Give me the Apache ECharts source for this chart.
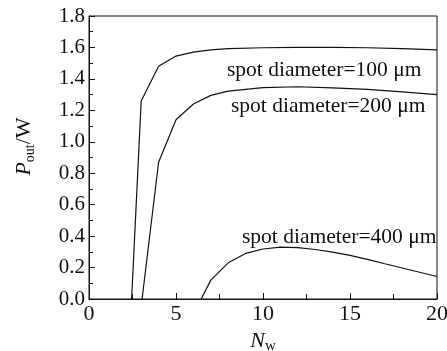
<!DOCTYPE html>
<html>
<head>
<meta charset="utf-8">
<script src="https://cdn.jsdelivr.net/npm/echarts@6/dist/echarts.min.js"></script>
<style>
html, body { margin: 0; padding: 0; background: #fff; }
#main { width: 447px; height: 351px; }
</style>
</head>
<body>
<div id="main"></div>
<script>
'use strict';

// spot diameter = 100 um
let nw100 = [2.45, 3.0, 4.0, 5, 6, 7, 8, 10, 12, 14, 16, 18, 20];
let pout100 = [0, 1.26, 1.48, 1.545, 1.57, 1.585, 1.593, 1.598, 1.6, 1.6, 1.598, 1.592, 1.585];

// spot diameter = 200 um
let nw200 = [3.05, 4.0, 5, 6, 7, 8, 10, 12, 14, 16, 18, 20];
let pout200 = [0, 0.87, 1.14, 1.24, 1.295, 1.322, 1.345, 1.35, 1.343, 1.333, 1.318, 1.30];

// spot diameter = 400 um
let nw400 = [6.45, 7, 8, 9, 10, 11, 12, 13, 14, 15, 16, 17, 18, 19, 20];
let pout400 = [0, 0.12, 0.23, 0.29, 0.318, 0.33, 0.327, 0.315, 0.298, 0.278, 0.252, 0.224, 0.197, 0.17, 0.143];

let curveNames = ['spot diameter=100 μm', 'spot diameter=200 μm', 'spot diameter=400 μm'];

let font = 'Liberation Serif';
let ink = '#111';

function pairs(xs, ys) {
	let out = [];
	for (let i = 0; i < xs.length; i++) {
		out.push([xs[i], ys[i]]);
	}
	return out;
}

let myChart = echarts.init(document.getElementById('main'));

let lineSeries = function (name, data) {
	return {
		name: name,
		type: 'line',
		data: data,
		showSymbol: false,
		symbol: 'none',
		lineStyle: { color: ink, width: 1.2 },
		animation: false
	};
};

let option = {
	backgroundColor: '#fff',
	animation: false,
	grid: {
		left: 89,
		right: 10,
		top: 16,
		bottom: 52,
		outerBoundsMode: 'none',
		containLabel: false,
		show: true,
		borderColor: ink,
		borderWidth: 1
	},
	xAxis: {
		type: 'value',
		min: 0,
		max: 20,
		interval: 5,
		name: '{i|N}{s|w}',
		nameLocation: 'middle',
		nameGap: 28,
		nameTextStyle: {
			rich: {
				i: { fontFamily: font, fontSize: 22, fontStyle: 'italic', color: ink, lineHeight: 26 },
				s: { fontFamily: font, fontSize: 15, color: ink, lineHeight: 15, verticalAlign: 'bottom' }
			}
		},
		axisLine: { lineStyle: { color: ink } },
		axisTick: { inside: true, length: 6, lineStyle: { color: ink } },
		minorTick: { show: true, splitNumber: 2, length: 5, lineStyle: { color: ink } },
		splitLine: { show: false },
		axisLabel: { fontFamily: font, fontSize: 22, color: ink, margin: 4 }
	},
	yAxis: {
		type: 'value',
		min: 0,
		max: 1.8,
		interval: 0.2,
		name: '{i|P}{s|out}{n|/W}',
		nameLocation: 'middle',
		nameGap: 52,
		nameRotate: 90,
		nameTextStyle: {
			padding: [0, 0, 0, 22],
			rich: {
				i: { fontFamily: font, fontSize: 22, fontStyle: 'italic', color: ink, lineHeight: 26 },
				s: { fontFamily: font, fontSize: 14, color: ink, lineHeight: 14, verticalAlign: 'bottom' },
				n: { fontFamily: font, fontSize: 22, color: ink, lineHeight: 26 }
			}
		},
		axisLine: { lineStyle: { color: ink } },
		axisTick: { inside: true, length: 6, lineStyle: { color: ink } },
		minorTick: { show: true, splitNumber: 2, length: 4, lineStyle: { color: ink } },
		splitLine: { show: false },
		axisLabel: {
			fontFamily: font,
			fontSize: 21,
			color: ink,
			margin: 4,
			formatter: function (v) { return v.toFixed(1); }
		}
	},
	graphic: [
		{ type: 'text', x: 227, y: 70, style: { text: curveNames[0], fontFamily: font, fontSize: 21.5, fill: ink, verticalAlign: 'middle' } },
		{ type: 'text', x: 231, y: 106, style: { text: curveNames[1], fontFamily: font, fontSize: 21.5, fill: ink, verticalAlign: 'middle' } },
		{ type: 'text', x: 242, y: 237, style: { text: curveNames[2], fontFamily: font, fontSize: 21.5, fill: ink, verticalAlign: 'middle' } }
	],
	series: [
		lineSeries(curveNames[0], pairs(nw100, pout100)),
		lineSeries(curveNames[1], pairs(nw200, pout200)),
		lineSeries(curveNames[2], pairs(nw400, pout400))
	]
};

myChart.setOption(option);
</script>
</body>
</html>
